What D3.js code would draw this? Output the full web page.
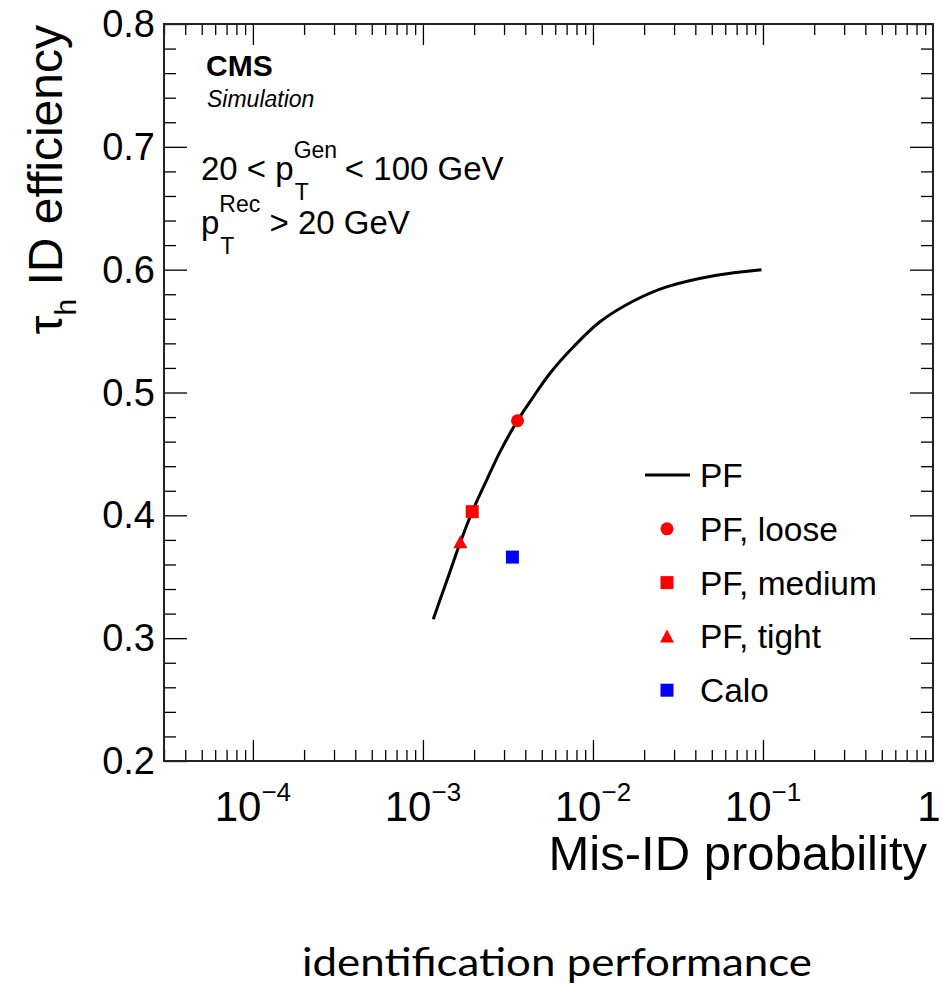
<!DOCTYPE html>
<html>
<head>
<meta charset="utf-8">
<script src="https://cdn.jsdelivr.net/npm/d3@7"></script>
<style>
  body { margin: 0; background: #fff; }
  text { font-family: 'Liberation Sans', Arial, sans-serif; fill: #000; }
  text.caption { font-family: Lato, 'Open Sans', sans-serif; }
</style>
</head>
<body>
<div id="chart"></div>
<script>
// PF curve (mis-ID probability vs tau_h efficiency)
const pfMisId = [1.15e-3, 1.32e-3, 1.51e-3, 1.65e-3, 1.93e-3, 2.37e-3, 2.84e-3, 3.56e-3,
  4.46e-3, 5.58e-3, 7.66e-3, 1.10e-2, 1.73e-2, 2.71e-2, 5.34e-2, 9.8e-2]
const pfEff = [0.3155, 0.339, 0.362, 0.377, 0.4015, 0.4287, 0.4517, 0.476,
  0.4965, 0.5155, 0.537, 0.5576, 0.5745, 0.586, 0.5955, 0.600]

// working points
const wpNames = ['PF, loose', 'PF, medium', 'PF, tight', 'Calo']
const wpMisId = [3.6e-3, 1.95e-3, 1.66e-3, 3.36e-3]
const wpEff = [0.477, 0.403, 0.378, 0.366]
const wpShapes = ['circle', 'square', 'triangle', 'square']
const wpColors = ['#ff0000', '#ff0000', '#ff0000', '#0000ff']

// axes
const xMajorTicks = [1e-4, 1e-3, 1e-2, 1e-1, 1]
const xTickBase = ['10', '10', '10', '10', '1']
const xTickExp = ['\u22124', '\u22123', '\u22122', '\u22121', '']
const yMajorTicks = [0.2, 0.3, 0.4, 0.5, 0.6, 0.7, 0.8]
const yTickLabels = ['0.2', '0.3', '0.4', '0.5', '0.6', '0.7', '0.8']

const W = 943
const H = 990
const pLeft = 164
const pRight = 933
const pTop = 24
const pBottom = 761

const svg = d3.select('#chart').append('svg')
  .attr('width', W)
  .attr('height', H)

const x = d3.scaleLog().domain([3e-5, 1]).range([pLeft, pRight])
const y = d3.scaleLinear().domain([0.2, 0.8]).range([pBottom, pTop])

// minor tick positions
const xMinor = []
for (let e = -5; e < 0; e++) {
  for (let m = 2; m <= 9; m++) {
    const v = m * Math.pow(10, e)
    if (v > 3e-5 && v < 1) xMinor.push(v)
  }
}
const yMinor = d3.range(0.2, 0.8001, 0.02).filter(v => Math.abs(Math.round(v * 10) - v * 10) > 1e-6)

function ticks (axis, pos, values, size) {
  svg.append('g')
    .attr('transform', pos)
    .call(axis.tickValues(values).tickSize(size).tickFormat(''))
    .call(g => g.select('.domain').remove())
    .call(g => g.selectAll('line').attr('stroke', '#000').attr('stroke-width', 1.3))
}

ticks(d3.axisBottom(x), `translate(0,${pBottom})`, xMajorTicks.slice(0, 4), -21)
ticks(d3.axisBottom(x), `translate(0,${pBottom})`, xMinor, -11)
ticks(d3.axisTop(x), `translate(0,${pTop})`, xMajorTicks.slice(0, 4), -21)
ticks(d3.axisTop(x), `translate(0,${pTop})`, xMinor, -11)
ticks(d3.axisLeft(y), `translate(${pLeft},0)`, yMajorTicks, -23)
ticks(d3.axisLeft(y), `translate(${pLeft},0)`, yMinor, -12)
ticks(d3.axisRight(y), `translate(${pRight},0)`, yMajorTicks, -23)
ticks(d3.axisRight(y), `translate(${pRight},0)`, yMinor, -12)

// frame
svg.append('rect')
  .attr('x', pLeft)
  .attr('y', pTop)
  .attr('width', pRight - pLeft)
  .attr('height', pBottom - pTop)
  .attr('fill', 'none')
  .attr('stroke', '#222')
  .attr('stroke-width', 2)

// y tick labels
svg.append('g').selectAll('text')
  .data(yMajorTicks)
  .join('text')
  .attr('x', pLeft - 9)
  .attr('y', d => y(d) + 13)
  .attr('text-anchor', 'end')
  .attr('font-size', 38)
  .text((d, i) => yTickLabels[i])

// x tick labels
xMajorTicks.forEach((v, i) => {
  const t = svg.append('text')
    .attr('y', 821)
    .attr('font-size', 42)
  t.append('tspan').text(xTickBase[i])
  if (xTickExp[i]) {
    t.append('tspan').attr('dy', -20).attr('font-size', 26).text(xTickExp[i])
  }
  const w = t.node().getComputedTextLength()
  const cx = i === 4 ? x(v) - 4 : x(v)
  t.attr('x', cx - w / 2)
})

// axis titles
svg.append('text')
  .attr('x', 927)
  .attr('y', 870)
  .attr('text-anchor', 'end')
  .attr('font-size', 49)
  .text('Mis-ID probability')

const yt = svg.append('text')
  .attr('transform', 'translate(62,25) rotate(-90)')
  .attr('text-anchor', 'end')
  .attr('font-size', 48)
yt.append('tspan').text('\u03c4')
yt.append('tspan').attr('dy', 14).attr('font-size', 30).text('h')
yt.append('tspan').attr('dy', -14).text(' ID efficiency')

// CMS label
svg.append('text')
  .attr('x', 206)
  .attr('y', 76)
  .attr('font-size', 30)
  .attr('font-weight', 'bold')
  .text('CMS')

svg.append('text')
  .attr('x', 207)
  .attr('y', 107)
  .attr('font-size', 23)
  .attr('font-style', 'italic')
  .text('Simulation')

// kinematic selection lines
function ptText (yPos, parts) {
  const t = svg.append('text').attr('x', 201).attr('y', yPos).attr('font-size', 33)
  parts(t)
}

ptText(180, t => {
  t.append('tspan').text('20 < p')
  const px = 201 + t.node().getComputedTextLength()
  t.append('tspan').attr('dy', -22).attr('font-size', 23).text('Gen')
  t.append('tspan').attr('x', px + 1).attr('dy', 42).attr('font-size', 23).text('T')
  t.append('tspan').attr('x', px + 42).attr('dy', -20).text(' < 100 GeV')
})

ptText(234, t => {
  t.append('tspan').text('p')
  const px = 201 + t.node().getComputedTextLength()
  t.append('tspan').attr('dy', -22).attr('font-size', 23).text('Rec')
  t.append('tspan').attr('x', px + 1).attr('dy', 42).attr('font-size', 23).text('T')
  t.append('tspan').attr('x', px + 41).attr('dy', -20).text(' > 20 GeV')
})

// PF curve
const line = d3.line()
  .x(d => x(d[0]))
  .y(d => y(d[1]))
  .curve(d3.curveCatmullRom.alpha(0.5))

svg.append('path')
  .datum(pfMisId.map((v, i) => [v, pfEff[i]]))
  .attr('fill', 'none')
  .attr('stroke', '#000')
  .attr('stroke-width', 3)
  .attr('d', line)

// marker drawing
function marker (g, shape, color, cx, cy) {
  if (shape === 'circle') {
    g.append('circle').attr('cx', cx).attr('cy', cy).attr('r', 6.5).attr('fill', color)
  } else if (shape === 'square') {
    g.append('rect').attr('x', cx - 6.5).attr('y', cy - 6.5).attr('width', 13).attr('height', 13).attr('fill', color)
  } else {
    g.append('path')
      .attr('d', `M${cx - 7},${cy + 6}L${cx + 7},${cy + 6}L${cx},${cy - 7}Z`)
      .attr('fill', color)
  }
}

const pts = svg.append('g')
wpNames.forEach((n, i) => {
  marker(pts, wpShapes[i], wpColors[i], x(wpMisId[i]), y(wpEff[i]))
})

// legend
const legend = svg.append('g')
const legY0 = 475
const legStep = 53.8
legend.append('line')
  .attr('x1', 645).attr('x2', 690)
  .attr('y1', legY0).attr('y2', legY0)
  .attr('stroke', '#000')
  .attr('stroke-width', 3)
legend.append('text')
  .attr('x', 700).attr('y', legY0 + 12)
  .attr('font-size', 33.5)
  .text('PF')
wpNames.forEach((n, i) => {
  const ly = legY0 + legStep * (i + 1)
  marker(legend, wpShapes[i], wpColors[i], 667, ly)
  legend.append('text')
    .attr('x', 700).attr('y', ly + 12)
    .attr('font-size', 33.5)
    .text(n)
})

// caption below the figure
svg.append('text')
  .attr('class', 'caption')
  .attr('x', 302)
  .attr('y', 976)
  .attr('font-size', 39)
  .attr('textLength', 510)
  .attr('lengthAdjust', 'spacingAndGlyphs')
  .text('identification performance')
</script>
</body>
</html>
